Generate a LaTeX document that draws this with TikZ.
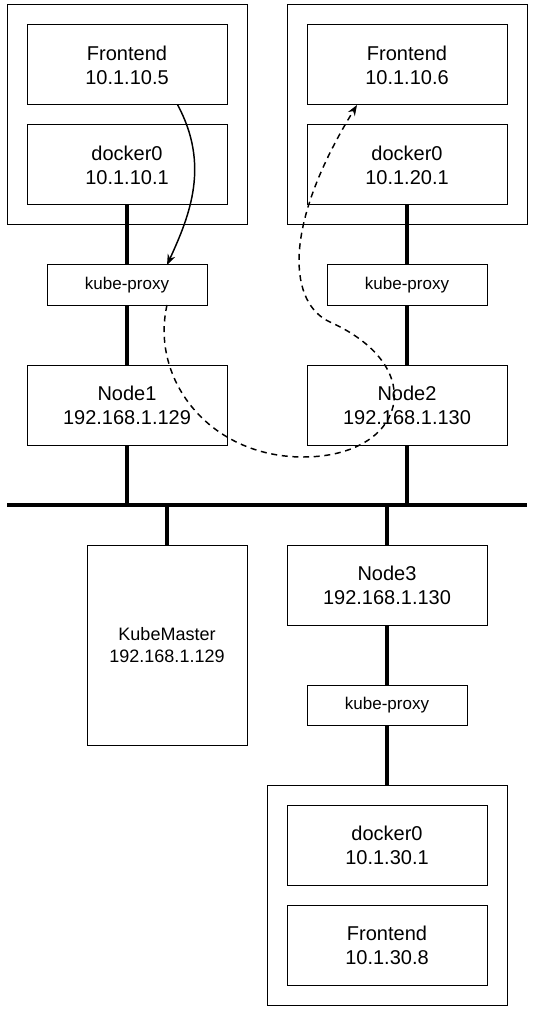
\documentclass[tikz,border=0pt]{standalone}
\usepackage{fontspec}
\setmainfont{Liberation Sans}
\usetikzlibrary{fit, positioning, arrows.meta}

\begin{document}
\begin{tikzpicture}[x=0.75pt, y=-0.75pt]
\tikzstyle{box}=[rectangle, draw=black, line width=0.75pt, minimum width=150pt, minimum height=60pt, inner sep=0pt, outer sep=0pt, align=center, font=\fontsize{15}{18}\selectfont]
\tikzstyle{proxy}=[box, minimum width=120pt, minimum height=30pt, font=\fontsize{12.75}{15.3}\selectfont]
\tikzstyle{host}=[rectangle, draw=black, line width=0.75pt, inner sep=15pt, outer sep=0pt]
\tikzstyle{wire}=[line width=3pt]
\tikzstyle{connect}=[-{Stealth[length=8pt, width=6pt]}, line width=1.1pt]
\useasboundingbox (0,0) rectangle (536,1012);
    % first host
    \node[box] (F1) at (127,65) {Frontend\\10.1.10.5};
    \node[box] (D1) [below=15pt of F1] {docker0\\10.1.10.1};
    \node[host, fit=(F1)(D1)] (H1) {};
    \node[proxy] (P1) [below=45pt of D1] {kube-proxy};
    \node[box] (N1) [below=45pt of P1] {Node1\\192.168.1.129};
    % second host
    \node[box] (F2) at (407,65) {Frontend\\10.1.10.6};
    \node[box] (D2) [below=15pt of F2] {docker0\\10.1.20.1};
    \node[host, fit=(F2)(D2)] (H2) {};
    \node[proxy] (P2) [below=45pt of D2] {kube-proxy};
    \node[box] (N2) [below=45pt of P2] {Node2\\192.168.1.130};
    % bus
    \coordinate (BL) at (7,505);
    \coordinate (BR) at (527,505);
    \draw[line width=3.4pt] (BL) -- (BR);
    % master and third host
    \node[proxy, minimum height=150pt, font=\fontsize{13.5}{16}\selectfont] (KM) at (167,645) {KubeMaster\\192.168.1.129};
    \node[box] (N3) at (387,585) {Node3\\192.168.1.130};
    \node[proxy] (P3) [below=45pt of N3] {kube-proxy};
    \node[box] (D3) [below=60pt of P3] {docker0\\10.1.30.1};
    \node[box] (F3) [below=15pt of D3] {Frontend\\10.1.30.8};
    \node[host, fit=(D3)(F3)] (H3) {};
    % wires
    \draw[wire] (D1.south) -- (P1.north)
                (P1.south) -- (N1.north)
                (N1.south) -- (N1.south |- BL);
    \draw[wire] (D2.south) -- (P2.north)
                (P2.south) -- (N2.north)
                (N2.south) -- (N2.south |- BL);
    \draw[wire] (KM.north) -- (KM.north |- BL);
    \draw[wire] (N3.north) -- (N3.north |- BL)
                (N3.south) -- (P3.north)
                (P3.south) -- (H3.north);
    % traffic
    \draw[connect] ([xshift=38pt]F1.south) .. controls (210,165) and (190,215) .. ([xshift=30pt]P1.north);
    \draw[connect, dash pattern=on 4.5pt off 3.5pt] ([xshift=30pt]P1.south) .. controls (150,380) and (210,457) .. (303,457)
          .. controls (405,457) and (432,368) .. (330,322)
          .. controls (290,304) and (280,230) .. ([xshift=-37.5pt]F2.south);
\end{tikzpicture}
\end{document}
